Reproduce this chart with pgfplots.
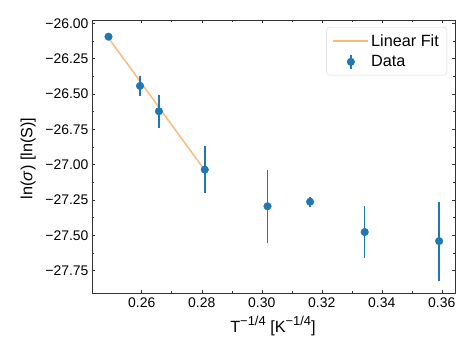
\documentclass[border=0pt]{standalone}
\usepackage{fontspec}
\setmainfont{Liberation Sans}
\usepackage{pgfplots}
\pgfplotsset{compat=1.18}
\definecolor{mblue}{HTML}{1F77B4}
\definecolor{morange}{HTML}{FF7F0E}
\pgfplotstableread{
x y e
0.2489 -26.095 0.024
0.2594 -26.443 0.068
0.2657 -26.622 0.118
0.2810 -27.035 0.165
0.3019 -27.294 0.256
0.3161 -27.262 0.037
0.3343 -27.476 0.183
0.3591 -27.540 0.279
}\datatable
\newcommand{\mysup}[1]{\raisebox{0.45em}{\fontsize{13}{13}\selectfont #1}}
\begin{document}
\begin{tikzpicture}
\begin{axis}[
 scale only axis, width=363bp, height=273bp,
 xmin=0.2434, xmax=0.3644, ymin=-27.907, ymax=-25.977,
 xtick={0.26,0.28,0.30,0.32,0.34,0.36},
 xticklabels={0.26,0.28,0.30,0.32,0.34,0.36},
 ytick={-27.75,-27.5,-27.25,-27,-26.75,-26.5,-26.25,-26},
 yticklabels={−27.75,−27.50,−27.25,−27.00,−26.75,−26.50,−26.25,−26.00},
 minor x tick num=1, minor y tick num=1,
 tick align=inside, xtick pos=both, ytick pos=both,
 major tick length=3.5bp, minor tick length=2bp,
 tick style={black!80, line width=0.6bp},
 axis line style={black!80, line width=0.8bp},
 tick label style={font=\fontsize{14}{16}\selectfont},
 xticklabel style={yshift=-1bp},
 xlabel={T\mysup{−1/4} [K\mysup{−1/4}]},
 ylabel={ln(\textit{σ}) [ln(S)]},
 every axis x label/.style={at={(axis description cs:0.4986,-0.121)}, anchor=center, font=\fontsize{16.3}{19}\selectfont},
 every axis y label/.style={at={(axis description cs:-0.176,0.493)}, rotate=90, anchor=center, font=\fontsize{16.3}{19}\selectfont},
 legend style={at={(0.978,0.974)}, anchor=north east, draw=black!15, rounded corners=3bp,
   fill=white, font=\fontsize{16.3}{19}\selectfont, inner xsep=6bp, inner ysep=5bp, row sep=4bp,
   /tikz/every even column/.append style={column sep=8bp}},
 legend cell align=left,
]
\addplot[morange, opacity=0.55, line width=1.5bp,
  legend image code/.code={\draw[morange, opacity=0.55, line width=1.5bp] (0bp,0bp)--(35bp,0bp);}]
  coordinates {(0.2489,-26.104) (0.2810,-27.040)};
\addlegendentry{Linear Fit}
\addplot[only marks, mark=*, mark size=3.8bp, mblue,
  mark options={fill=mblue, draw=mblue},
  legend image code/.code={\draw[mblue, line width=1.5bp] (17.5bp,-7bp)--(17.5bp,7bp); \fill[mblue] (17.5bp,0bp) circle (3.8bp);},
  error bars/.cd, y dir=both, y explicit, error mark=none,
  error bar style={line width=1.5bp, mblue}]
  table[x=x, y=y, y error=e] {\datatable};
\addlegendentry{Data}
\coordinate (sw) at (rel axis cs:0,0);
\end{axis}
\pgfresetboundingbox
\path[use as bounding box] ([shift={(-92bp,-62bp)}]sw) rectangle ([shift={(382bp,293bp)}]sw);
\end{tikzpicture}
\end{document}
